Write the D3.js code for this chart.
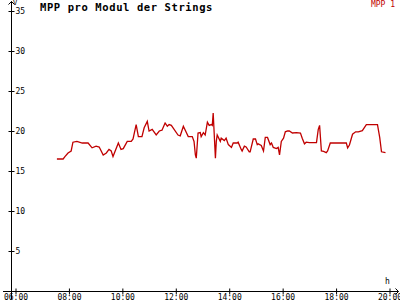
<!DOCTYPE html>
<html>
<head>
<meta charset="utf-8">
<script src="https://cdn.jsdelivr.net/npm/d3@7"></script>
<style>
  body { margin: 0; background: #fff; }
  svg { display: block; }
  .axis text { font-family: "DejaVu Sans Mono", monospace; font-size: 8px; fill: #000; }
</style>
</head>
<body>
<svg id="chart"></svg>
<script>
// MPP voltage per module, one string
var times = ["07:33", "07:47", "07:51", "07:58", "08:05", "08:09", "08:18", "08:30", "08:36", "08:43",
  "08:52", "09:01", "09:08", "09:17", "09:24", "09:30", "09:35", "09:39", "09:51", "09:57",
  "10:02", "10:11", "10:20", "10:24", "10:31", "10:36", "10:44", "10:49", "10:56", "11:00",
  "11:07", "11:16", "11:23", "11:29", "11:36", "11:41", "11:45", "11:50", "12:05", "12:10",
  "12:17", "12:28", "12:37", "12:41", "12:44", "12:46", "12:50", "12:55", "12:57", "13:02",
  "13:06", "13:11", "13:15", "13:20", "13:22", "13:24", "13:29", "13:31", "13:33", "13:40",
  "13:42", "13:49", "13:53", "13:58", "14:05", "14:09", "14:18", "14:20", "14:27", "14:29",
  "14:34", "14:38", "14:45", "14:47", "14:54", "14:59", "15:03", "15:05", "15:12", "15:17",
  "15:21", "15:26", "15:32", "15:35", "15:39", "15:46", "15:50", "15:53", "15:57", "16:02",
  "16:06", "16:11", "16:15", "16:22", "16:31", "16:40", "16:44", "16:49", "16:53", "17:00",
  "17:16", "17:20", "17:23", "17:27", "17:32", "17:38", "17:41", "17:47", "18:23", "18:26",
  "18:30", "18:37", "18:44", "18:50", "18:59", "19:08", "19:33", "19:38", "19:42", "19:51"];
var mpp1 = [16.5, 16.5, 16.8, 17.25, 17.5, 18.6, 18.7, 18.5, 18.5, 18.5,
  17.9, 18.1, 18.0, 17.0, 17.25, 17.7, 17.5, 16.8, 18.5, 17.7,
  17.8, 18.7, 18.7, 19.0, 20.8, 19.3, 19.3, 20.4, 21.2, 20.0,
  20.2, 19.5, 20.0, 20.1, 21.0, 20.6, 20.8, 20.7, 19.5, 19.4,
  20.6, 19.3, 19.3, 18.7, 17.0, 16.6, 19.75, 19.8, 19.3, 19.8,
  19.5, 21.1, 20.7, 20.8, 20.7, 22.25, 16.6, 18.7, 19.5, 18.7,
  19.1, 18.8, 19.1, 18.3, 17.95, 18.5, 18.5, 18.6, 17.7, 17.5,
  18.1, 18.0, 17.4, 17.4, 19.0, 19.0, 18.3, 18.4, 18.2, 17.5,
  19.2, 19.2, 18.3, 18.5, 17.95, 17.8, 17.95, 17.0, 18.7, 19.1,
  19.9, 20.0, 20.0, 19.75, 19.8, 19.75, 19.1, 18.4, 18.6, 18.55,
  18.55, 20.2, 20.7, 17.5, 17.45, 17.3, 17.5, 18.5, 18.5, 17.9,
  18.25, 19.6, 19.9, 19.9, 20.05, 20.8, 20.8, 19.2, 17.4, 17.3];
var xTicks = ["06:00", "08:00", "10:00", "12:00", "14:00", "16:00", "18:00", "20:00"];
var yTicks = [5, 10, 15, 20, 25, 30, 35];

var width = 400, height = 300;
var parseTime = d3.timeParse("%H:%M");

var svg = d3.select("#chart")
            .attr("width", width)
            .attr("height", height);

var x = d3.scaleTime()
          .domain([parseTime("06:00"), parseTime("20:00")])
          .range([15.5, 389.5]);

var y = d3.scaleLinear()
          .domain([0, 35])
          .range([291, 11]);

// x axis
var xAxis = svg.append("g")
               .attr("class", "axis")
               .attr("transform", "translate(0,291.5)")
               .call(d3.axisBottom(x)
                       .tickValues(xTicks.map(parseTime))
                       .tickFormat(d3.timeFormat("%H:%M"))
                       .tickSize(3));
xAxis.select(".domain").remove();
xAxis.selectAll(".tick line").attr("y1", -3).attr("y2", 3).attr("stroke", "#000");
xAxis.selectAll(".tick text").attr("y", 8).attr("dy", 0);

// y axis
var yAxis = svg.append("g")
               .attr("class", "axis")
               .attr("transform", "translate(11.5,0)")
               .call(d3.axisRight(y).tickValues(yTicks).tickSize(3));
yAxis.select(".domain").remove();
yAxis.selectAll(".tick line").attr("x1", -3).attr("x2", 3).attr("stroke", "#000");
yAxis.selectAll(".tick text").attr("x", 4).attr("dy", "0.32em");

// axis lines with arrows
svg.append("path")
   .attr("d", "M3,291.5H398.5M395.5,288.5L398.5,291.5L395.5,294.5")
   .attr("fill", "none").attr("stroke", "#000");
svg.append("path")
   .attr("d", "M11.5,299V1.5M8.5,4.5L11.5,1.5L14.5,4.5")
   .attr("fill", "none").attr("stroke", "#000");

svg.append("text")
   .attr("class", "axis")
   .attr("x", 13).attr("y", 5)
   .attr("font-family", "DejaVu Sans Mono, monospace")
   .attr("font-size", 7)
   .text("V");

svg.append("text")
   .attr("x", 385).attr("y", 284)
   .attr("font-family", "DejaVu Sans Mono, monospace")
   .attr("font-size", 8)
   .text("h");

// title and legend
svg.append("text")
   .attr("x", 40).attr("y", 11)
   .attr("font-family", "DejaVu Sans Mono, monospace")
   .attr("font-size", 10.5)
   .attr("font-weight", "bold")
   .attr("letter-spacing", 0.6)
   .text("MPP pro Modul der Strings");

svg.append("text")
   .attr("x", 395).attr("y", 7)
   .attr("text-anchor", "end")
   .attr("font-family", "DejaVu Sans Mono, monospace")
   .attr("font-size", 8)
   .attr("fill", "#c00000")
   .text("MPP 1");

// data line
var line = d3.line()
             .x((d, i) => x(parseTime(times[i])))
             .y(d => y(d));

svg.append("path")
   .datum(mpp1)
   .attr("d", line)
   .attr("fill", "none")
   .attr("stroke", "#c00000")
   .attr("stroke-width", 1.3);
</script>
</body>
</html>
